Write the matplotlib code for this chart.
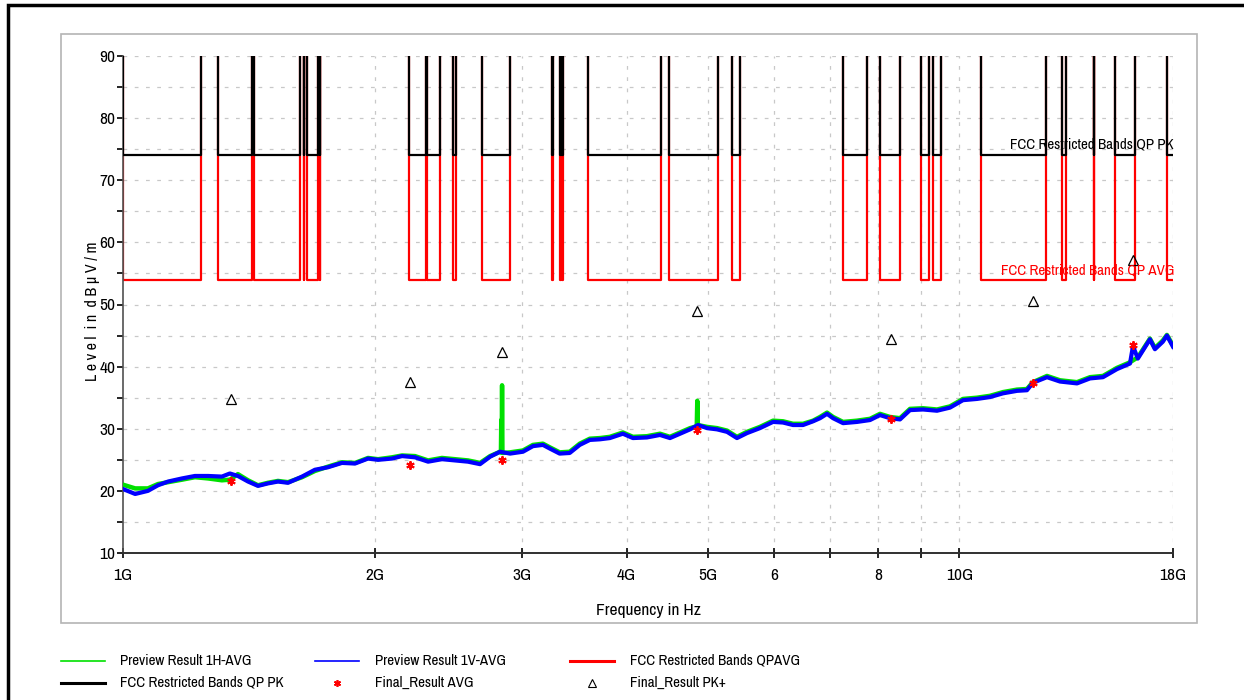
import matplotlib
matplotlib.use("Agg")
import matplotlib.pyplot as plt
from matplotlib.patches import Rectangle
from matplotlib.lines import Line2D

plt.rcParams['font.family'] = ['Liberation Sans Narrow', 'Arial Narrow', 'Archivo Narrow',
                               'Roboto Condensed', 'Liberation Sans', 'DejaVu Sans']

# ---------------- data ----------------
# FCC restricted bands (GHz) in 1-18 GHz
band_lo = [0.96, 1.300, 1.435, 1.6455, 1.660, 1.7188, 2.200, 2.310, 2.4835, 2.690, 3.260, 3.332, 3.3458,
           3.600, 4.500, 5.350, 7.250, 8.025, 9.000, 9.300, 10.600, 13.250, 14.470, 15.350, 17.700]
band_hi = [1.240, 1.427, 1.6265, 1.6465, 1.710, 1.7222, 2.300, 2.390, 2.500, 2.900, 3.267, 3.339, 3.358,
           4.400, 5.150, 5.460, 7.750, 8.500, 9.200, 9.500, 12.700, 13.400, 14.500, 16.200, 21.400]
limit_pk = 74.0
limit_avg = 54.0
limit_out = 100.0   # outside restricted bands (off scale)

# Preview Result 1V-AVG (GHz, dBuV/m)
v_freq = [1.000, 1.034, 1.071, 1.101, 1.132, 1.176, 1.219, 1.264, 1.313, 1.342, 1.372, 1.411, 1.450, 1.490,
          1.532, 1.575, 1.637, 1.696, 1.758, 1.827, 1.894, 1.963, 2.018, 2.097, 2.156, 2.234, 2.316, 2.406,
          2.494, 2.585, 2.672, 2.747, 2.823, 2.902, 3.007, 3.091, 3.177, 3.239, 3.327, 3.420, 3.516, 3.615,
          3.716, 3.820, 3.959, 4.070, 4.230, 4.385, 4.507, 4.634, 4.763, 4.869, 4.992, 5.131, 5.274, 5.420,
          5.572, 5.774, 5.985, 6.152, 6.324, 6.501, 6.683, 6.813, 6.945, 7.061, 7.258, 7.543, 7.817, 8.035,
          8.258, 8.490, 8.727, 9.045, 9.400, 9.742, 10.097, 10.494, 10.876, 11.272, 11.715, 12.041, 12.241,
          12.724, 13.188, 13.820, 14.323, 14.844, 15.428, 15.990, 16.122, 16.340, 16.892, 17.126, 17.500,
          17.701, 18.000]
v_level = [20.3, 19.5, 20.0, 20.9, 21.5, 22.0, 22.4, 22.4, 22.3, 22.8, 22.4, 21.5, 20.8, 21.2,
           21.5, 21.3, 22.3, 23.4, 23.8, 24.5, 24.4, 25.2, 25.0, 25.2, 25.6, 25.4, 24.7, 25.1,
           24.9, 24.7, 24.3, 25.5, 26.3, 26.0, 26.3, 27.2, 27.4, 26.8, 26.0, 26.1, 27.4, 28.2,
           28.3, 28.5, 29.2, 28.5, 28.6, 29.0, 28.5, 29.2, 29.9, 30.6, 30.1, 29.9, 29.5, 28.5,
           29.3, 30.1, 31.1, 31.0, 30.6, 30.6, 31.2, 31.7, 32.4, 31.7, 30.9, 31.1, 31.4, 32.2,
           31.7, 31.5, 33.0, 33.1, 32.9, 33.4, 34.6, 34.8, 35.1, 35.7, 36.1, 36.2, 37.4,
           38.3, 37.6, 37.3, 38.1, 38.3, 39.6, 40.5, 43.3, 41.3, 44.4, 42.8, 44.0,
           45.0, 43.2]

# Preview Result 1H-AVG (GHz, dBuV/m)
h_freq = [1.000, 1.034, 1.071, 1.101, 1.132, 1.176, 1.219, 1.264, 1.313, 1.342, 1.372, 1.411, 1.450, 1.490,
          1.532, 1.575, 1.637, 1.696, 1.758, 1.827, 1.894, 1.963, 2.018, 2.097, 2.156, 2.234, 2.316, 2.406,
          2.494, 2.585, 2.672, 2.747, 2.823, 2.830, 2.833, 2.836, 2.839, 2.842, 2.902, 3.007, 3.091, 3.177,
          3.239, 3.327, 3.420, 3.516, 3.615, 3.716, 3.820, 3.959, 4.070, 4.230, 4.385, 4.507, 4.634, 4.763,
          4.852, 4.859, 4.866, 4.992, 5.131, 5.274, 5.420, 5.572, 5.774, 5.985, 6.152, 6.324, 6.501, 6.683,
          6.813, 6.945, 7.061, 7.258, 7.543, 7.817, 8.035, 8.258, 8.490, 8.727, 9.045, 9.400, 9.742, 10.097,
          10.494, 10.876, 11.272, 11.715, 12.041, 12.241, 12.724, 13.188, 13.820, 14.323, 14.844, 15.428,
          15.990, 16.340, 16.892, 17.126, 17.500, 17.701, 18.000]
h_level = [21.0, 20.4, 20.4, 21.1, 21.4, 21.8, 22.2, 22.0, 21.7, 21.8, 22.7, 21.7, 20.9, 21.3,
           21.6, 21.4, 22.2, 23.2, 23.9, 24.6, 24.5, 25.3, 25.1, 25.4, 25.7, 25.6, 24.9, 25.3,
           25.1, 24.9, 24.5, 25.6, 26.3, 26.2, 31.4, 26.2, 37.0, 26.1, 26.2, 26.5, 27.4, 27.6,
           27.0, 26.2, 26.3, 27.6, 28.4, 28.5, 28.7, 29.4, 28.7, 28.8, 29.2, 28.7, 29.4, 30.1,
           30.4, 34.5, 30.6, 30.3, 30.1, 29.7, 28.7, 29.5, 30.3, 31.3, 31.2, 30.8, 30.8, 31.3,
           31.9, 32.6, 31.9, 31.1, 31.3, 31.6, 32.4, 31.9, 31.7, 33.2, 33.3, 33.1, 33.6, 34.8,
           35.0, 35.3, 35.9, 36.3, 36.4, 37.5, 38.5, 37.8, 37.5, 38.3, 38.5, 39.8,
           40.7, 41.5, 44.5, 43.0, 44.2, 45.1, 43.4]

# Final results
final_freq = [1.346, 2.203, 2.838, 4.855, 8.280, 12.240, 16.120]
final_avg = [21.6, 24.2, 25.0, 29.8, 31.5, 37.4, 43.5]
final_pk = [34.8, 37.6, 42.4, 49.0, 44.4, 50.6, 57.1]

x_ticks = [1, 2, 3, 4, 5, 6, 7, 8, 9, 10, 18]
x_ticklabels = ['1G', '2G', '3G', '4G', '5G', '6', '', '8', '', '10G', '18G']
x_grid = [2, 3, 4, 5, 6, 7, 8, 9, 10, 18]

# ---------------- build limit step lines ----------------
def limit_line(level):
    xs, ys = [], []
    for lo, hi in zip(band_lo, band_hi):
        lo = max(lo, 1.0)
        xs += [lo, lo]
        ys += [limit_out, level]
        if hi >= 18.0:
            xs += [18.0]
            ys += [level]
        else:
            xs += [hi, hi]
            ys += [level, limit_out]
    return xs, ys

W, H = 1244, 700
fig = plt.figure(figsize=(W / 100, H / 100), dpi=100)

# outer frame and grey box
fig.add_artist(Rectangle((8 / W, -1), 2, 1 - 5 / H + 1, transform=fig.transFigure,
                         fill=False, edgecolor='black', linewidth=2.5))
fig.add_artist(Rectangle((61 / W, 1 - 623 / H), (1197 - 61) / W, (623 - 34) / H,
                         transform=fig.transFigure, fill=False, edgecolor='#b4b4b4', linewidth=1.2))

ax = fig.add_axes([123 / W, 1 - 553 / H, 1050 / W, 497 / H])
ax.set_xscale('log')
ax.set_xlim(1.0, 18.0)
ax.set_ylim(10, 90)

# grid
grid_kw = dict(color='#c8c8c8', linewidth=0.9, linestyle=(0, (3, 6)), zorder=0)
for gx in x_grid:
    ax.axvline(gx, **grid_kw)
for gy in range(15, 95, 5):
    ax.axhline(gy, **grid_kw)

# limits
xa, ya = limit_line(limit_avg)
ax.plot(xa, ya, color='#ff0000', linewidth=1.6, zorder=2)
xp, yp = limit_line(limit_pk)
ax.plot(xp, yp, color='black', linewidth=1.6, zorder=3)

# traces
ax.plot(h_freq, h_level, color='#00e000', linewidth=3.2, zorder=4)
ax.plot(v_freq, v_level, color='#0000ff', linewidth=3.0, zorder=5)

# final results
ax.plot(final_freq, final_avg, linestyle='none', marker=(6, 2, 0), markersize=6,
        markeredgecolor='#ff0000', markeredgewidth=1.4, zorder=6)
ax.plot(final_freq, final_pk, linestyle='none', marker='^', markersize=7,
        markerfacecolor='none', markeredgecolor='black', markeredgewidth=0.9, zorder=6)

# limit labels
ax.text(18.05, 75.7, 'FCC Restricted Bands QP PK', ha='right', va='center', fontsize=10.8,
        color='black', zorder=7)
ax.text(18.05, 55.5, 'FCC Restricted Bands QP AVG', ha='right', va='center', fontsize=10.8,
        color='#ff0000', zorder=7)

# axes styling
for s in ['top', 'right']:
    ax.spines[s].set_visible(False)
ax.spines['left'].set_color('#505050')
ax.spines['bottom'].set_color('#303030')
ax.spines['left'].set_linewidth(1.2)
ax.spines['bottom'].set_linewidth(1.4)
ax.set_xticks(x_ticks)
ax.set_xticklabels(x_ticklabels)
ax.xaxis.set_minor_locator(matplotlib.ticker.NullLocator())
ax.set_yticks(range(10, 100, 10))
ax.set_yticks(range(15, 90, 10), minor=True)
ax.tick_params(axis='x', which='major', direction='inout', length=7, width=1.2, labelsize=12.5, pad=7)
ax.tick_params(axis='y', which='major', direction='out', length=4, width=1.2, labelsize=12.5, pad=1.5)
ax.tick_params(axis='y', which='minor', direction='out', length=4, width=1.2)
ax.set_xlabel('Frequency in Hz', fontsize=12.5, va='center')
ax.xaxis.set_label_coords(0.5, -0.1167)
ax.set_ylabel('L e v e l  i n  d B µ V / m', fontsize=11.5, va='center')
ax.yaxis.set_label_coords(-0.0295, 0.487)

# legend (manual, figure coords)
def fy(py):
    return 1 - py / H

leg_fs = 10.8
rows = [661, 683]
cols = [(61, 105, 120), (315, 359, 375), (570, 614, 630)]
items = [
    (0, 0, 'line', '#00e000', 'Preview Result 1H-AVG'),
    (0, 1, 'line', '#0000ff', 'Preview Result 1V-AVG'),
    (0, 2, 'line', '#ff0000', 'FCC Restricted Bands QPAVG'),
    (1, 0, 'line', 'black', 'FCC Restricted Bands QP PK'),
    (1, 1, 'star', '#ff0000', 'Final_Result AVG'),
    (1, 2, 'tri', 'black', 'Final_Result PK+'),
]
for r, c, kind, col, label in items:
    x0, x1, xt = cols[c]
    y = fy(rows[r])
    if kind == 'line':
        lw = 2.2 if col in ('black', '#ff0000') else 1.2
        fig.add_artist(Line2D([x0 / W, x1 / W], [y, y], color=col, linewidth=lw,
                              transform=fig.transFigure))
    elif kind == 'star':
        fig.add_artist(Line2D([(x0 + x1) / 2 / W], [y], marker=(6, 2, 0), markersize=5,
                              markeredgecolor=col, markeredgewidth=1.2, linestyle='none',
                              transform=fig.transFigure))
    else:
        fig.add_artist(Line2D([(x0 + x1) / 2 / W], [y], marker='^', markersize=6,
                              markerfacecolor='none', markeredgecolor=col, markeredgewidth=0.8,
                              linestyle='none', transform=fig.transFigure))
    fig.text(xt / W, y, label, ha='left', va='center', fontsize=leg_fs, color='black')

fig.savefig('out.png', dpi=100)
